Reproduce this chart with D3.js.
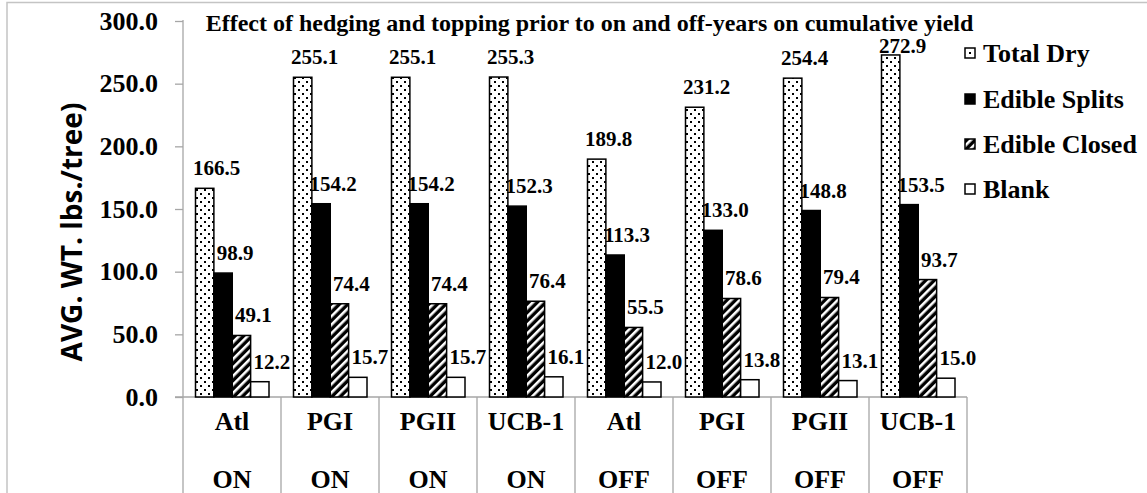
<!DOCTYPE html>
<html>
<head>
<meta charset="utf-8">
<script src="https://d3js.org/d3.v7.min.js"></script>
<style>
    body { margin: 0; background: #fff; }
    svg { display: block; }
</style>
</head>
<body>
<script>
    // chart data
    var varieties = ["Atl", "PGI", "PGII", "UCB-1", "Atl", "PGI", "PGII", "UCB-1"];
    var years = ["ON", "ON", "ON", "ON", "OFF", "OFF", "OFF", "OFF"];
    var seriesNames = ["Total Dry", "Edible Splits", "Edible Closed", "Blank"];
    var totalDry = [166.5, 255.1, 255.1, 255.3, 189.8, 231.2, 254.4, 272.9];
    var edibleSplits = [98.9, 154.2, 154.2, 152.3, 113.3, 133.0, 148.8, 153.5];
    var edibleClosed = [49.1, 74.4, 74.4, 76.4, 55.5, 78.6, 79.4, 93.7];
    var blank = [12.2, 15.7, 15.7, 16.1, 12.0, 13.8, 13.1, 15.0];
    var yTicks = [0, 50, 100, 150, 200, 250, 300];

    var seriesValues = [totalDry, edibleSplits, edibleClosed, blank];
    var fills = ["url(#dots)", "#000", "url(#hatch)", "#fff"];

    const W = 1147, H = 493;
    const serif = "'Liberation Serif', 'Times New Roman', serif";
    const gray = "#a6a6a6";

    const svg = d3.select("body").append("svg")
        .attr("width", W)
        .attr("height", H);

    // patterns
    var defs = svg.append("defs");
    var dots = defs.append("pattern")
        .attr("id", "dots")
        .attr("patternUnits", "userSpaceOnUse")
        .attr("width", 8).attr("height", 8);
    dots.append("rect").attr("width", 8).attr("height", 8).attr("fill", "#fff");
    dots.append("rect").attr("x", 1).attr("y", 1).attr("width", 2).attr("height", 2).attr("fill", "#000");
    dots.append("rect").attr("x", 5).attr("y", 5).attr("width", 2).attr("height", 2).attr("fill", "#000");

    var hatch = defs.append("pattern")
        .attr("id", "hatch")
        .attr("patternUnits", "userSpaceOnUse")
        .attr("width", 6).attr("height", 6)
        .attr("patternTransform", "rotate(45)");
    hatch.append("rect").attr("width", 6).attr("height", 6).attr("fill", "#000");
    hatch.append("rect").attr("x", 0).attr("width", 2.6).attr("height", 6).attr("fill", "#fff");

    // frame
    svg.append("path")
        .attr("d", "M7," + H + "V2.5H" + W)
        .attr("fill", "none")
        .attr("stroke", "#c4c4c4")
        .attr("stroke-width", 1.5);

    // scales
    var y = d3.scaleLinear().domain([0, 300]).range([397, 21]);
    var x0 = d3.scaleBand().domain(d3.range(varieties.length)).range([183, 967]);
    var x1 = d3.scaleBand().domain(d3.range(seriesNames.length)).range([12.5, 86]);

    // y axis
    var yAxis = svg.append("g")
        .attr("transform", "translate(183,0)")
        .call(d3.axisLeft(y).tickValues(yTicks).tickFormat(d3.format(".1f")).tickSize(8).tickPadding(17));
    yAxis.select(".domain").remove();
    yAxis.selectAll("line").attr("stroke", gray).attr("stroke-width", 1.3);
    yAxis.selectAll("text")
        .attr("font-family", serif)
        .attr("font-weight", "bold")
        .attr("font-size", 26)
        .attr("fill", "#000");

    svg.append("line")
        .attr("x1", 183).attr("x2", 183)
        .attr("y1", 20).attr("y2", H)
        .attr("stroke", gray).attr("stroke-width", 1.3);

    // category separators and baseline
    svg.selectAll(".sep")
        .data(d3.range(1, varieties.length + 1))
        .enter().append("line")
        .attr("class", "sep")
        .attr("x1", d => x0(0) + d * x0.bandwidth())
        .attr("x2", d => x0(0) + d * x0.bandwidth())
        .attr("y1", y(0)).attr("y2", H)
        .attr("stroke", gray).attr("stroke-width", 1.3);

    svg.append("line")
        .attr("x1", 175).attr("x2", 967)
        .attr("y1", y(0)).attr("y2", y(0))
        .attr("stroke", gray).attr("stroke-width", 1.3);

    // bars
    var groups = svg.selectAll(".grp")
        .data(varieties)
        .enter().append("g")
        .attr("class", "grp")
        .attr("transform", (d, i) => "translate(" + x0(i) + ",0)");

    groups.each(function (d, i) {
        var g = d3.select(this);
        seriesValues.forEach(function (vals, s) {
            var v = vals[i];
            g.append("rect")
                .attr("x", x1(s))
                .attr("y", y(v))
                .attr("width", x1.bandwidth())
                .attr("height", y(0) - y(v))
                .attr("fill", fills[s])
                .attr("stroke", "#000")
                .attr("stroke-width", 1.5);
            // labels are kept below the title line
            g.append("text")
                .attr("x", x1(s) + x1.bandwidth() / 2 + 12)
                .attr("y", Math.max(y(v) - 13, 53))
                .attr("text-anchor", "middle")
                .attr("font-family", serif)
                .attr("font-weight", "bold")
                .attr("font-size", 21)
                .text(v.toFixed(1));
        });
    });

    // category labels
    svg.selectAll(".cat1")
        .data(varieties)
        .enter().append("text")
        .attr("x", (d, i) => x0(i) + x0.bandwidth() / 2)
        .attr("y", 430)
        .attr("text-anchor", "middle")
        .attr("font-family", serif)
        .attr("font-weight", "bold")
        .attr("font-size", 26)
        .text(d => d);

    svg.selectAll(".cat2")
        .data(years)
        .enter().append("text")
        .attr("x", (d, i) => x0(i) + x0.bandwidth() / 2)
        .attr("y", 488)
        .attr("text-anchor", "middle")
        .attr("font-family", serif)
        .attr("font-weight", "bold")
        .attr("font-size", 26)
        .text(d => d);

    // y axis title
    svg.append("text")
        .attr("transform", "translate(82,232) rotate(-90)")
        .attr("text-anchor", "middle")
        .attr("font-family", "'Open Sans', sans-serif")
        .attr("font-weight", "bold")
        .attr("font-size", 28)
        .text("AVG. WT. lbs./tree)");

    // title
    svg.append("text")
        .attr("x", 589.5)
        .attr("y", 31)
        .attr("text-anchor", "middle")
        .attr("font-family", serif)
        .attr("font-weight", "bold")
        .attr("font-size", 24)
        .text("Effect of hedging and topping prior to on and off-years on cumulative yield");

    // legend
    var legendY = [53, 99, 144, 189];
    var legend = svg.selectAll(".leg")
        .data(seriesNames)
        .enter().append("g")
        .attr("class", "leg")
        .attr("transform", (d, i) => "translate(965," + legendY[i] + ")");

    legend.append("rect")
        .attr("x", 0).attr("y", -5)
        .attr("width", 10).attr("height", 10)
        .attr("fill", (d, i) => i == 0 ? "#fff" : fills[i])
        .attr("stroke", "#000")
        .attr("stroke-width", 1.5);
    legend.filter((d, i) => i == 0).append("rect")
        .attr("x", 4).attr("y", -1).attr("width", 2).attr("height", 2).attr("fill", "#000");

    legend.append("text")
        .attr("x", 18)
        .attr("y", 9)
        .attr("font-family", serif)
        .attr("font-weight", "bold")
        .attr("font-size", 26)
        .text(d => d);
</script>
</body>
</html>
